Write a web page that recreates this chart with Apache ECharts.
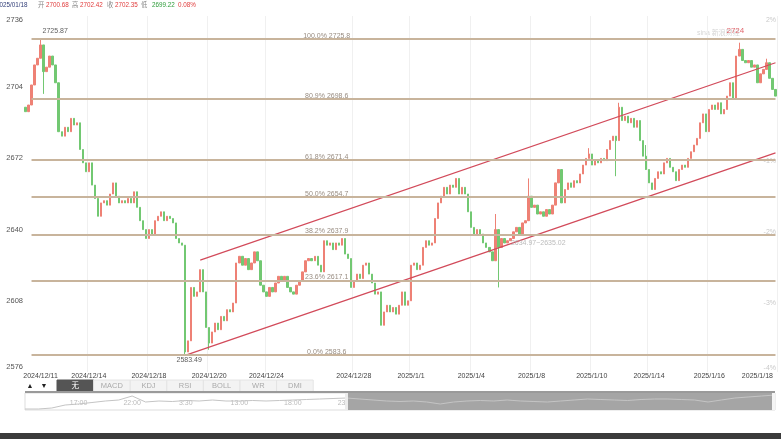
<!DOCTYPE html>
<html>
<head>
<meta charset="utf-8">
<script src="https://cdn.jsdelivr.net/npm/echarts@6/dist/echarts.min.js"></script>
<style>
  html, body { margin: 0; padding: 0; background: #fff; }
  #main { width: 781px; height: 439px; }
</style>
</head>
<body>
<div id="main"></div>
<script>
  // 收盘价
  const firstOpen = 2695
  const closes = [
    2693, 2696, 2705, 2714, 2717, 2723, 2711, 2713, 2718, 2714,
    2706, 2684, 2682, 2686, 2684, 2690, 2687, 2688, 2676, 2670,
    2666, 2670, 2660, 2654, 2646, 2652, 2653, 2651, 2656, 2661,
    2655, 2652, 2653, 2652, 2654, 2652, 2657, 2650, 2644, 2640,
    2636, 2640, 2638, 2644, 2646, 2648, 2644, 2646, 2645, 2643,
    2636, 2634, 2633, 2585, 2590, 2614, 2610, 2612, 2622, 2612,
    2596, 2589, 2594, 2598, 2595, 2601, 2599, 2604, 2603, 2607,
    2625, 2628, 2624, 2627, 2622, 2625, 2630, 2626, 2615, 2612,
    2610, 2614, 2612, 2616, 2619, 2617, 2619, 2614, 2612, 2611,
    2615, 2617, 2621, 2626, 2627, 2626, 2628, 2624, 2621, 2635,
    2633, 2634, 2631, 2634, 2633, 2636, 2629, 2627, 2614, 2617,
    2620, 2618, 2624, 2625, 2620, 2616, 2611, 2612, 2597, 2603,
    2606, 2603, 2605, 2602, 2606, 2612, 2606, 2608, 2624, 2625,
    2622, 2624, 2632, 2635, 2633, 2634, 2645, 2652, 2655, 2659,
    2656, 2660, 2659, 2663, 2656, 2659, 2656, 2648, 2641, 2638,
    2640, 2638, 2634, 2632, 2630, 2626, 2640, 2632, 2636, 2634,
    2635, 2636, 2639, 2641, 2638, 2643, 2644, 2655, 2650, 2651,
    2647, 2648, 2646, 2649, 2647, 2651, 2661, 2667, 2652, 2658,
    2661, 2659, 2662, 2661, 2665, 2669, 2672, 2674, 2669, 2671,
    2670, 2672, 2671, 2676, 2680, 2682, 2680, 2695, 2689, 2691,
    2688, 2690, 2686, 2689, 2680, 2673, 2667, 2661, 2658, 2663,
    2666, 2665, 2670, 2672, 2668, 2666, 2662, 2667, 2669, 2668,
    2672, 2675, 2678, 2681, 2688, 2692, 2684, 2694, 2696, 2694,
    2697, 2692, 2694, 2700, 2706, 2699, 2718, 2721, 2716, 2715,
    2716, 2713, 2714, 2706, 2710, 2712, 2715, 2708, 2703, 2700
  ]
  // 长影线 [序号, 价格]
  const wickHighs = [[5, 2725.87], [156, 2647], [167, 2663], [187, 2676.6], [197, 2697], [237, 2724], [246, 2716.8]]
  const wickLows = [[6, 2701], [53, 2583.49], [61, 2586], [157, 2614], [196, 2664], [206, 2678]]

  // 坐标轴刻度
  const yTicks = [2736, 2704, 2672, 2640, 2608, 2576]
  const tickIndex = [5, 21, 41, 61, 80, 109, 128, 148, 168, 188, 207, 227, 243]
  const tickText = ['2024/12/11', '2024/12/14', '2024/12/18', '2024/12/20', '2024/12/24', '2024/12/28',
    '2025/1/1', '2025/1/4', '2025/1/8', '2025/1/10', '2025/1/14', '2025/1/16', '2025/1/18']

  // 黄金分割线
  const fibRatios = ['100.0%', '80.9%', '61.8%', '50.0%', '38.2%', '23.6%', '0.0%']
  const fibValues = [2725.8, 2698.6, 2671.4, 2654.7, 2637.9, 2617.1, 2583.6]
  const fibStart = 2
  const fibEnd = 249
  const fibLabelAt = 100

  // 通道线 [序号, 价格]
  const channelUpper = [[58, 2626.3], [249, 2715]]
  const channelLower = [[53, 2583.5], [249, 2674.5]]

  // 导航条
  const navValues = [
    1, 1, 2, 5, 6, 7.5, 9, 10, 14, 8,
    9, 8.5, 9.5, 9, 10, 9, 9, 9.5, 9, 9.5,
    10, 10.5, 11, 11.5, 12, 11, 10, 9, 8.5, 9,
    8, 6, 8, 9, 9.5, 9, 10, 9, 8.5, 8,
    9, 10, 11, 10.5, 10, 9.5, 10.5, 11, 11, 10.5,
    10, 8, 10, 12, 13, 14, 15
  ]
  const navTickIndex = [4, 8, 12, 16, 20, 24, 28, 32, 36, 40, 44, 48, 52]
  const navTickText = ['17:00', '22:00', '3:30', '13:00', '18:00', '23:00', '4:30', '10:00', '18:00', '23:00', '4:30', '10:00', '15:00']
  const navSelStart = 24
  const navSelEnd = 56

  const tabNames = ['无', 'MACD', 'KDJ', 'RSI', 'BOLL', 'WR', 'DMI']

  const FONT = 'Arial, "Liberation Sans", "Noto Sans CJK SC", sans-serif'
  const UP = '#ee8175'
  const DOWN = '#72c872'

  // K线数据
  const kData = closes.map((c, i) => {
    const o = i === 0 ? firstOpen : closes[i - 1]
    return [o, c, Math.min(o, c), Math.max(o, c)]
  })
  wickHighs.forEach(([i, v]) => { kData[i][3] = v })
  wickLows.forEach(([i, v]) => { kData[i][2] = v })

  const xIdx = closes.map((c, i) => i)
  const navIdx = navValues.map((v, i) => i)

  // 标注文字
  const labelPoints = fibValues.map((v, k) => ({
    value: [fibLabelAt, v],
    label: { position: 'top', distance: -1, formatter: fibRatios[k] + ' ' + v.toFixed(1), color: '#7d6e60' }
  }))
  labelPoints.push({
    value: [5, 2725.87],
    label: { position: 'top', distance: 3, align: 'left', offset: [2, 0], formatter: '2725.87', color: '#333' }
  })
  labelPoints.push({
    value: [53, 2583.49],
    label: { position: 'bottom', distance: 1, offset: [4, 0], formatter: '2583.49', color: '#333' }
  })
  labelPoints.push({
    value: [237, 2724],
    label: { position: 'top', distance: 7, offset: [-4, 0], formatter: '2724', color: '#d9414a', fontSize: 8 }
  })
  labelPoints.push({
    value: [161, 2634],
    label: { position: 'right', distance: 0, formatter: '2634.97~2635.02', color: '#aaa' }
  })

  // 图形元素
  const graphics = []
  const headParts = [['2025/01/18', -4, '#34407a'], ['开', 38, '#888'], ['2700.68', 46, '#e03c3c'],
    ['高', 72, '#888'], ['2702.42', 80, '#e03c3c'], ['收', 107, '#888'], ['2702.35', 115, '#e03c3c'],
    ['低', 141, '#888'], ['2699.22', 152, '#2e9c3a'], ['0.08%', 178, '#e03c3c']]
  headParts.forEach(p => {
    graphics.push({ type: 'text', x: p[1], y: 5, style: { text: p[0], fill: p[2], fontSize: 6.3, fontFamily: FONT, verticalAlign: 'middle' } })
  })
  const pctLabels = [['2%', 20], ['-1%', 161], ['-2%', 232], ['-3%', 303], ['-4%', 368]]
  pctLabels.forEach(p => {
    graphics.push({ type: 'text', x: 776, y: p[1], style: { text: p[0], fill: '#c9c9c9', fontSize: 7, fontFamily: FONT, align: 'right', verticalAlign: 'middle' } })
  })
  graphics.push({ type: 'text', x: 697, y: 33, style: { text: 'sina 新浪财经', fill: '#d6d6d6', fontSize: 7, fontFamily: FONT, verticalAlign: 'middle' } })

  // 指标标签栏
  graphics.push({ type: 'text', x: 30, y: 386, style: { text: '▲', fill: '#222', fontSize: 7, fontFamily: FONT, align: 'center', verticalAlign: 'middle' } })
  graphics.push({ type: 'text', x: 44, y: 386, style: { text: '▼', fill: '#222', fontSize: 7, fontFamily: FONT, align: 'center', verticalAlign: 'middle' } })
  tabNames.forEach((name, k) => {
    const x = 57 + k * 36.6
    graphics.push({ type: 'rect', shape: { x: x, y: 380, width: 36.6, height: 12 },
      style: { fill: k === 0 ? '#555' : '#f3f3f3', stroke: k === 0 ? '#555' : '#e4e4e4', lineWidth: 1 } })
    graphics.push({ type: 'text', x: x + 18.3, y: 386, style: { text: name, fill: k === 0 ? '#fff' : '#aaa', fontSize: 7.5, fontFamily: FONT, align: 'center', verticalAlign: 'middle' } })
  })

  // 导航条外框
  graphics.push({ type: 'rect', shape: { x: 25, y: 393, width: 750, height: 17 }, style: { fill: 'none', stroke: '#ddd', lineWidth: 1 } })
  graphics.push({ type: 'rect', z: 50, shape: { x: 25, y: 391, width: 750, height: 2 }, style: { fill: '#9a9a9a' } })
  graphics.push({ type: 'rect', z: 50, shape: { x: 345, y: 393, width: 3, height: 17 }, style: { fill: '#ececec' } })
  graphics.push({ type: 'rect', z: 50, shape: { x: 772, y: 393, width: 3, height: 17 }, style: { fill: '#f5f5f5' } })

  // 底部深色条
  graphics.push({ type: 'rect', shape: { x: 0, y: 433, width: 781, height: 6 }, style: { fill: '#3b3b3b' } })

  const chart = echarts.init(document.getElementById('main'))
  const option = {
    animation: false,
    backgroundColor: '#fff',
    textStyle: { fontFamily: FONT },
    grid: [
      { left: 24, right: 4, top: 16, bottom: 67 },
      { left: 25, right: 6, top: 393, height: 17 }
    ],
    xAxis: [
      {
        type: 'category',
        data: xIdx,
        gridIndex: 0,
        axisLine: { show: false },
        axisTick: { show: false },
        axisLabel: {
          interval: (i) => tickIndex.includes(i),
          formatter: (v, i) => tickText[tickIndex.indexOf(i)] || '',
          color: '#444',
          fontSize: 7,
          margin: 1
        },
        splitLine: {
          show: true,
          interval: (i) => tickIndex.includes(i) && i !== 5 && i !== 243,
          lineStyle: { color: '#f0f0f0', width: 1 }
        }
      },
      {
        type: 'category',
        data: navIdx,
        gridIndex: 1,
        boundaryGap: false,
        axisLine: { show: false },
        axisTick: { show: false },
        axisLabel: {
          inside: true,
          interval: (i) => navTickIndex.includes(i),
          formatter: (v, i) => navTickText[navTickIndex.indexOf(i)] || '',
          color: '#bbb',
          fontSize: 7,
          margin: 3
        },
        splitLine: { show: false }
      }
    ],
    yAxis: [
      {
        type: 'value',
        gridIndex: 0,
        min: 2576,
        max: 2736,
        axisLine: { show: false },
        axisTick: { show: false },
        splitLine: { show: false },
        axisLabel: {
          customValues: yTicks,
          color: '#555',
          fontSize: 7.5,
          margin: 1,
          formatter: (v) => v === 2736 ? '{t|' + v + '}' : (v === 2576 ? '{b|' + v + '}' : String(v)),
          rich: {
            t: { fontSize: 7.5, color: '#555', padding: [8, 0, 0, 0] },
            b: { fontSize: 7.5, color: '#555', padding: [0, 0, 10, 0] }
          }
        }
      },
      { type: 'value', gridIndex: 1, min: 0, max: 17, show: false }
    ],
    series: [
      {
        name: 'K',
        type: 'candlestick',
        data: kData,
        barWidth: 1.8,
        itemStyle: { color: UP, color0: DOWN, borderColor: UP, borderColor0: DOWN, borderWidth: 1 },
        markLine: {
          symbol: 'none',
          silent: true,
          label: { show: false },
          lineStyle: { color: '#c8b49c', width: 2, type: 'solid' },
          data: fibValues.map(v => [{ coord: [fibStart, v] }, { coord: [fibEnd, v] }])
        }
      },
      {
        name: 'upper',
        type: 'line',
        data: channelUpper,
        symbol: 'none',
        silent: true,
        lineStyle: { color: '#d24a5a', width: 1.2 },
        z: 4
      },
      {
        name: 'lower',
        type: 'line',
        data: channelLower,
        symbol: 'none',
        silent: true,
        lineStyle: { color: '#d24a5a', width: 1.2 },
        z: 4
      },
      {
        name: 'labels',
        type: 'scatter',
        data: labelPoints,
        symbolSize: 1,
        silent: true,
        itemStyle: { color: 'rgba(0,0,0,0)' },
        label: { show: true, fontSize: 7, fontFamily: FONT },
        z: 6
      },
      {
        name: 'nav',
        type: 'line',
        xAxisIndex: 1,
        yAxisIndex: 1,
        data: navValues,
        symbol: 'none',
        silent: true,
        lineStyle: { color: '#c4c4c4', width: 1 },
        markArea: {
          silent: true,
          itemStyle: { color: '#a5a5a5' },
          data: [[{ xAxis: navSelStart }, { xAxis: navSelEnd }]]
        }
      }
    ],
    graphic: graphics
  }
  chart.setOption(option)
</script>
</body>
</html>
